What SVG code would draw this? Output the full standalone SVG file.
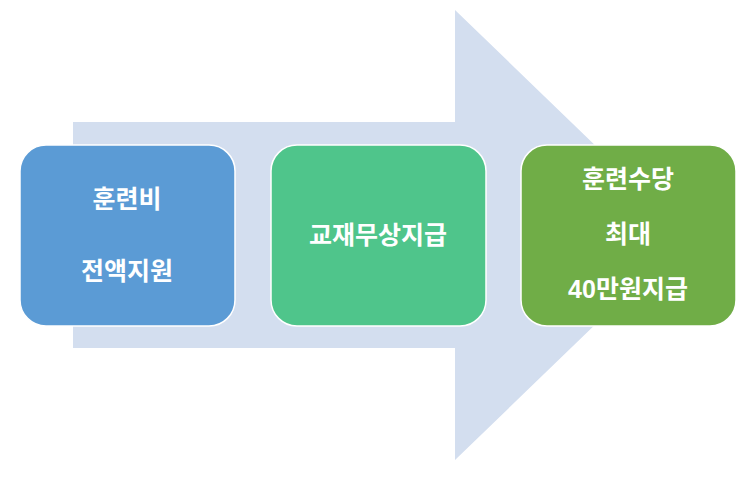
<svg xmlns="http://www.w3.org/2000/svg" width="743" height="479" viewBox="0 0 743 479">
<style>
.box{stroke:#ffffff;stroke-width:1.5}
.t{fill:#ffffff;font-family:"Liberation Sans","Noto Sans CJK KR",sans-serif;font-weight:bold;font-size:25px;text-anchor:middle}
</style>
<rect width="743" height="479" fill="#ffffff"/>
<g id="connectors">
<polygon id="arrow" points="73,122 455,122 455,10 688,235 455,460 455,348 73,348" fill="#d3deef"/>
</g>
<g id="node1">
<rect class="box" x="20" y="145" width="215" height="181" rx="26" fill="#5b9bd5"/>
<text class="t" x="127" y="208">훈련비</text>
<text class="t" x="127" y="280">전액지원</text>
</g>
<g id="node2">
<rect class="box" x="271" y="145" width="215" height="181" rx="26" fill="#4fc58b"/>
<text class="t" x="378" y="244">교재무상지급</text>
</g>
<g id="node3">
<rect class="box" x="521" y="145" width="215" height="181" rx="26" fill="#70ad47"/>
<text class="t" x="628" y="188">훈련수당</text>
<text class="t" x="628" y="243">최대</text>
<text class="t" x="628" y="298">40만원지급</text>
</g>
</svg>
